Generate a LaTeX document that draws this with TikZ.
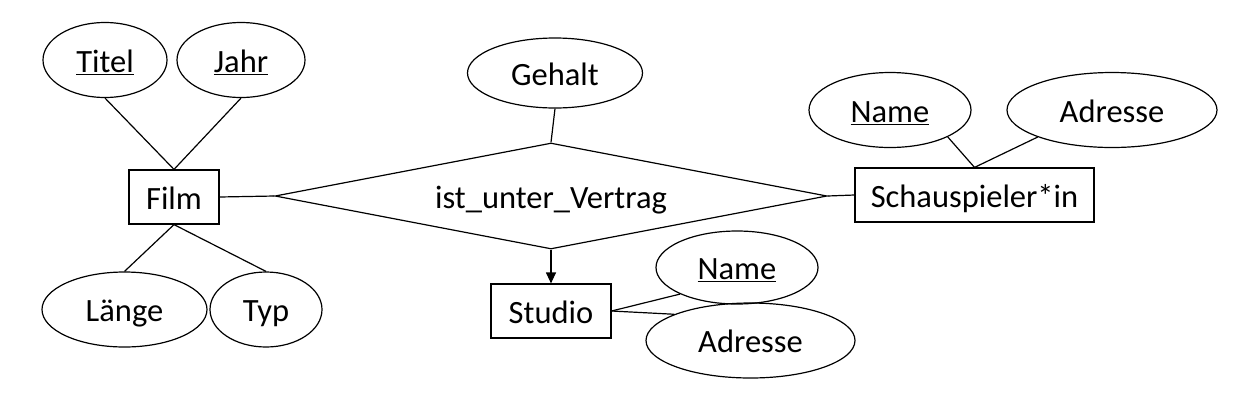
\documentclass[tikz,border=0pt]{standalone}
\usepackage{fontspec}
\setmainfont{Carlito}
\usetikzlibrary{arrows.meta,shapes.geometric}

\begin{document}
\begin{tikzpicture}[
    x=1pt, y=-1pt,
    font=\fontsize{32.5}{39}\selectfont,
    line width=1.2pt,
    every node/.style={text height=29pt, text depth=4.5pt},
    box/.style={draw, inner sep=0pt, minimum width=#1, minimum height=54pt},
    attr/.style={draw, ellipse, inner sep=0pt, minimum width=#1, minimum height=75pt},
    rel/.style={draw, diamond, aspect=5.2, inner sep=0pt, minimum width=552pt, minimum height=106pt},
    arr/.style={-{Triangle[length=11pt,width=10pt]}}
  ]
    \useasboundingbox (0,0) rectangle (1234,400);

    % Film with its attributes
    \node[box=90pt] (film) at (174,197) {Film};
    \node[attr=124pt] (titel) at (105,60) {\underline{Titel}};
    \node[attr=128pt] (jahr) at (241,60) {\underline{Jahr}};
    \node[attr=165pt] (laenge) at (124.5,309.5) {Länge};
    \node[attr=112pt] (typ) at (266,309.5) {Typ};

    % Relationship in the middle
    \node[rel] (vertrag) at (551,196) {ist\_unter\_Vertrag};
    \node[attr=175pt, minimum height=70pt] (gehalt) at (555,73) {Gehalt};

    % Schauspieler*in on the right
    \node[box=239pt] (schausp) at (974.5,195) {Schauspieler*in};
    \node[attr=162pt] (sname) at (890,110) {\underline{Name}};
    \node[attr=210pt] (sadr) at (1112,110) {Adresse};

    % Studio below
    \node[box=120pt] (studio) at (551,311) {Studio};
    \node[attr=162pt, minimum height=73pt] (stname) at (737,267.5) {\underline{Name}};
    \node[attr=209pt] (stadr) at (750.5,340.5) {Adresse};

    % Attribute lines
    \draw (titel.south) -- (film.north);
    \draw (jahr.south) -- (film.north);
    \draw (film.south) -- (laenge.north);
    \draw (film.south) -- (typ.north);
    \draw (gehalt.south) -- (vertrag.north);
    \draw (sname.335) -- (schausp.north);
    \draw (sadr.200) -- (schausp.north);
    \draw (studio.east) -- (stname.205);
    \draw (studio.east) -- (stadr.161);

    % Entities to the relationship
    \draw (film.east) -- (vertrag.west);
    \draw (vertrag.east) -- (schausp.west);
    \draw[arr] (vertrag.south) -- (studio.north);
\end{tikzpicture}
\end{document}
